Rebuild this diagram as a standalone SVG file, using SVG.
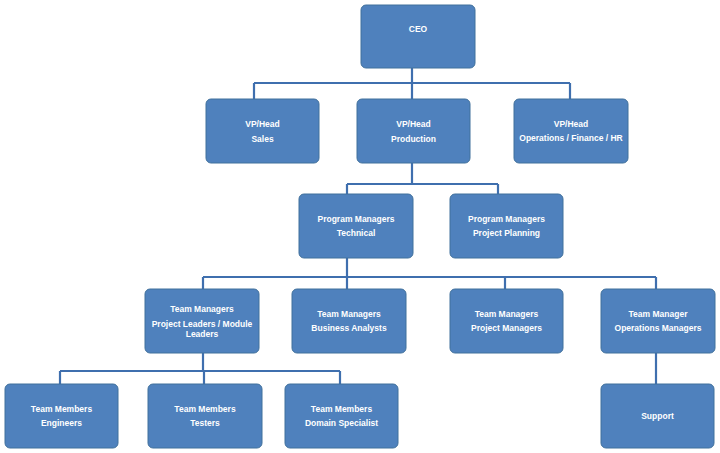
<svg xmlns="http://www.w3.org/2000/svg" width="720" height="453" viewBox="0 0 720 453">
<style>
.box{fill:#4f81bd;stroke:#41719c;stroke-width:1}
.t{font-family:"Liberation Sans",Arial,sans-serif;font-weight:bold;font-size:8.5px;fill:#ffffff;text-anchor:middle}
.c{fill:none;stroke:#3f6fae;stroke-width:2.2}
</style>
<rect width="720" height="453" fill="#ffffff"/>
<g id="connectors">
<path class="c" d="M412,68V83M254,83H570M254,83V99M412,83V99M570,83V99"/>
<path class="c" d="M412,163V184M347,184H498M347,184V194M498,184V194"/>
<path class="c" d="M347,258V277M203,277H656M203,277V289M347,277V289M505,277V289M656,277V289"/>
<path class="c" d="M203,353V371M60,371H340M60,371V384M204,371V384M340,371V384"/>
<path class="c" d="M656,353V384"/>
</g>
<g id="ceo"><rect class="box" x="361" y="5" width="114" height="63" rx="5"/><text class="t" x="418" y="32">CEO</text></g>
<g id="vp-sales"><rect class="box" x="206" y="99" width="113" height="64" rx="5"/><text class="t" x="262.5" y="127">VP/Head</text><text class="t" x="262.5" y="142">Sales</text></g>
<g id="vp-production"><rect class="box" x="357" y="99" width="113" height="64" rx="5"/><text class="t" x="413.5" y="127">VP/Head</text><text class="t" x="413.5" y="142">Production</text></g>
<g id="vp-operations"><rect class="box" x="514" y="99" width="114" height="64" rx="5"/><text class="t" x="571" y="127">VP/Head</text><text class="t" x="571" y="141">Operations / Finance /  HR</text></g>
<g id="pm-technical"><rect class="box" x="299" y="194" width="114" height="64" rx="5"/><text class="t" x="356" y="222">Program Managers</text><text class="t" x="356" y="236">Technical</text></g>
<g id="pm-planning"><rect class="box" x="450" y="194" width="113" height="64" rx="5"/><text class="t" x="506.5" y="222">Program Managers</text><text class="t" x="506.5" y="236">Project Planning</text></g>
<g id="tm-leaders"><rect class="box" x="145" y="289" width="114" height="64" rx="5"/><text class="t" x="202" y="312">Team Managers</text><text class="t" x="202" y="327">Project Leaders / Module</text><text class="t" x="202" y="337">Leaders</text></g>
<g id="tm-analysts"><rect class="box" x="292" y="289" width="114" height="64" rx="5"/><text class="t" x="349" y="317">Team Managers</text><text class="t" x="349" y="331">Business Analysts</text></g>
<g id="tm-project"><rect class="box" x="450" y="289" width="113" height="64" rx="5"/><text class="t" x="506.5" y="317">Team Managers</text><text class="t" x="506.5" y="331">Project Managers</text></g>
<g id="tm-operations"><rect class="box" x="601" y="289" width="114" height="64" rx="5"/><text class="t" x="658" y="317">Team Manager</text><text class="t" x="658" y="331">Operations Managers</text></g>
<g id="tmb-engineers"><rect class="box" x="5" y="384" width="113" height="64" rx="5"/><text class="t" x="61.5" y="412">Team Members</text><text class="t" x="61.5" y="426">Engineers</text></g>
<g id="tmb-testers"><rect class="box" x="148" y="384" width="114" height="64" rx="5"/><text class="t" x="205" y="412">Team Members</text><text class="t" x="205" y="426">Testers</text></g>
<g id="tmb-domain"><rect class="box" x="285" y="384" width="113" height="64" rx="5"/><text class="t" x="341.5" y="412">Team Members</text><text class="t" x="341.5" y="426">Domain Specialist</text></g>
<g id="support"><rect class="box" x="601" y="384" width="113" height="64" rx="5"/><text class="t" x="657.5" y="419">Support</text></g>
</svg>
